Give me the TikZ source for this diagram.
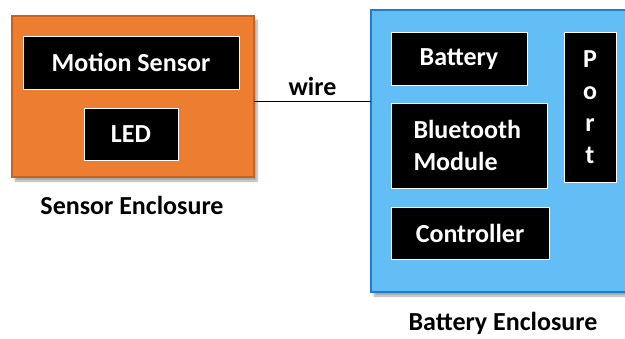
\documentclass[tikz,border=0pt]{standalone}
\usepackage{fontspec}
\setmainfont{Carlito}
\usetikzlibrary{shadows,shadows.blur}
\definecolor{orfill}{HTML}{ED7D31}
\definecolor{ordraw}{HTML}{C9621F}
\definecolor{blfill}{HTML}{63BEF6}
\definecolor{bldraw}{HTML}{1F7DD0}
\tikzset{
  encl/.style={line width=1.8pt, blur shadow={shadow xshift=3pt, shadow yshift=-4pt, shadow blur steps=6, shadow opacity=35}},
  part/.style={fill=black, draw=white, line width=1pt, text=white, font=\fontsize{26}{32}\selectfont\bfseries},
  lbl/.style={font=\fontsize{26}{32}\selectfont\bfseries, text=black},
}
\begin{document}
\begin{tikzpicture}[x=1pt,y=-1pt]
\useasboundingbox (0,0) rectangle (625,338);
% enclosures
\path[encl, fill=orfill, draw=ordraw] (12,16) rectangle (254,177);
\path[encl, fill=blfill, draw=bldraw] (371,10) rectangle (640,292);
\coordinate (se) at (254,101.5);
\coordinate (be) at (371,101.5);
% sensor parts
\node[part, minimum width=216pt, minimum height=53pt] (motion) at (131,62.5) {Motion Sensor};
\node[part, minimum width=94pt, minimum height=52pt] (led) at (131,134) {LED};
% battery parts
\node[part, minimum width=136pt, minimum height=53pt, text height=18pt, text depth=5pt] (battery) at (459,58.5) {Battery};
\node[part, minimum width=156pt, minimum height=85pt, text width=135pt, align=left, inner xsep=0pt] (bt) at (469,145.5) {\hspace*{12pt}Bluetooth\\\hspace*{12pt}Module};
\node[part, minimum width=158pt, minimum height=52pt] (ctrl) at (470,233) {Controller};
\node[part, minimum width=52pt, minimum height=150pt, align=center, inner sep=0pt] (port) at (590,107) {P\\o\\r\\t};
% wire
\draw[line width=1.6pt] (se) -- node[lbl, above=2pt] (wire) {wire} (be);
% labels
\node[lbl] (sencl) at (132,205) {Sensor Enclosure};
\node[lbl] (bencl) at (503,323) {Battery Enclosure};
\end{tikzpicture}
\end{document}
